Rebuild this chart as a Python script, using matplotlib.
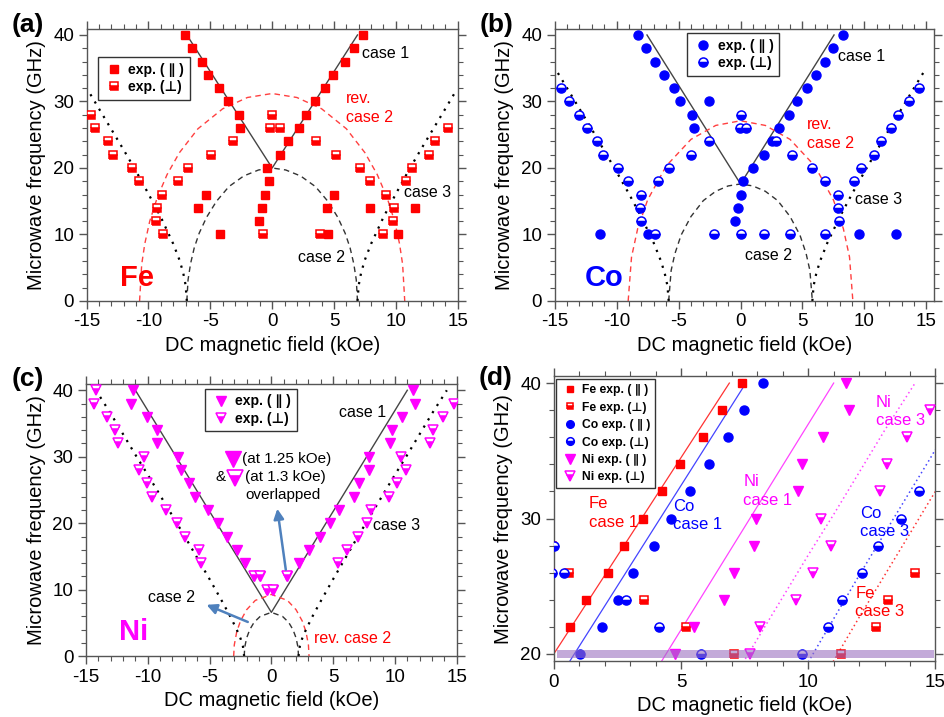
import matplotlib
matplotlib.use('Agg')
import matplotlib.pyplot as plt
from matplotlib.lines import Line2D
from matplotlib.ticker import MultipleLocator

plt.rcParams['font.family'] = ['Liberation Sans', 'DejaVu Sans']
plt.rcParams['axes.unicode_minus'] = False

RED = '#ff0000'
BLUE = '#0000ff'
MAG = '#ff00ff'
ARROW = '#4f81bd'

# ---------------- Fe data (panel a) ----------------
fe_par_x = [-7.08, -6.46, -5.70, -5.17, -4.30, -3.60, -2.69, -2.58, -5.33, -5.97, -4.25,
            -0.43, -0.22, -0.54, -0.86, -1.10, 0.63, 1.25, 2.15, 2.75, 3.50, 4.25, 4.96,
            5.88, 6.62, 7.38, 4.98, 4.44, 4.52, 7.88, 11.57, 10.14]
fe_par_y = [40, 38, 36, 34, 32, 30, 28, 26, 16, 14, 10,
            20, 18, 16, 14, 12, 22, 24, 26, 28, 30, 32, 34,
            36, 38, 40, 16, 14, 10, 14, 14, 10]
fe_perp_x = [-14.64, -14.34, -13.26, -12.83, -11.30, -10.76, -8.88, -9.31, -9.42, -8.85,
             -7.64, -6.78, -4.95, -3.17, -0.05, -0.16, 0.60, -0.75, 3.55, 5.20, 7.07,
             7.88, 9.20, 9.82, 9.74, 8.93, 3.85, 10.79, 11.29, 12.65, 13.15, 14.20]
fe_perp_y = [28, 26, 24, 22, 20, 18, 16, 14, 12, 10,
             18, 20, 22, 24, 28, 26, 26, 10, 24, 22, 20,
             18, 16, 14, 12, 10, 10, 18, 20, 22, 24, 26]

# ---------------- Co data (panel b) ----------------
co_par_x = [-8.27, -7.67, -6.93, -6.17, -5.37, -4.88, -3.88, -3.75, -2.52, -11.31, -7.47,
            0.23, 0.07, -0.20, -0.42, 1.04, 1.90, 2.52, 3.13, 3.94, 4.59, 5.34, 6.09,
            6.85, 7.49, 8.24, 9.56, 12.52]
co_par_y = [40, 38, 36, 34, 32, 30, 28, 26, 30, 10, 10,
            18, 16, 14, 12, 20, 22, 24, 26, 28, 30, 32, 34,
            36, 38, 40, 10, 10]
co_perp_x = [-14.46, -13.82, -13.01, -12.42, -11.56, -11.07, -9.89, -9.08, -8.0, -8.08, -8.0,
             -6.93, -6.66, -5.74, -4.02, -2.57, -2.14, 0.0, -0.05, 0.42, 0.0, 1.90, 4.0,
             2.83, 4.12, 5.80, 6.85, 7.87, 7.87, 7.92, 6.85, 9.16, 9.76, 10.78, 11.31,
             12.12, 12.73, 13.63, 14.37]
co_perp_y = [32, 30, 28, 26, 24, 22, 20, 18, 16, 14, 12,
             10, 18, 20, 22, 24, 10, 28, 26, 26, 10, 10, 10,
             24, 22, 20, 18, 16, 14, 12, 10, 18, 20, 22, 24,
             26, 28, 30, 32]

# ---------------- Ni data (panel c) ----------------
ni_par_x = [-11.17, -11.33, -10.09, -9.28, -9.28, -7.55, -7.34, -6.64, -6.20, -5.13, -4.32,
            -3.56, -2.81, -2.16, -1.40, -0.95, -0.35, 0.10, 1.25, 2.21, 3.02, 3.94, 4.75,
            5.50, 6.69, 7.07, 7.88, 7.93, 9.60, 9.77, 10.57, 11.60, 11.49]
ni_par_y = [40, 38, 36, 34, 32, 30, 28, 26, 24, 22, 20,
            18, 16, 14, 12, 12, 10, 10, 12, 14, 16, 18, 20,
            22, 24, 26, 28, 30, 32, 34, 36, 38, 40]
ni_perp_x = [-14.19, -14.35, -13.27, -12.62, -12.41, -10.30, -10.74, -10.03, -9.66, -8.52,
             -7.61, -6.96, -5.88, -5.66, -1.40, -0.95, -0.35, 0.10, 1.30, 5.40, 6.10, 7.01,
             7.72, 8.09, 9.50, 10.20, 10.90, 10.52, 12.84, 13.11, 13.87, 14.78]
ni_perp_y = [40, 38, 36, 34, 32, 30, 28, 26, 24, 22,
             20, 18, 16, 14, 12, 12, 10, 10, 12, 14, 16, 18,
             20, 22, 24, 26, 28, 30, 32, 34, 36, 38]

# ---------------- model curves ----------------
fe_c1_x = [-6.9, 0, 6.9]
fe_c1_y = [40, 20, 40]
co_c1_x = [-7.55, 0, 7.55]
co_c1_y = [40, 17.6, 40]
ni_c1_x = [-11.0, 0, 11.0]
ni_c1_y = [40, 6.6, 40]

fe_c2_x = [-6.9, -6.8, -6.6, -6.3, -5.9, -5.3, -4.5, -3.5, -2.3, -1.1, 0,
           1.1, 2.3, 3.5, 4.5, 5.3, 5.9, 6.3, 6.6, 6.8, 6.9]
fe_c2_y = [0, 3.2, 5.6, 8.0, 10.2, 12.6, 15.0, 17.2, 18.8, 19.7, 20,
           19.7, 18.8, 17.2, 15.0, 12.6, 10.2, 8.0, 5.6, 3.2, 0]
fe_rc2_x = [-10.72, -10.55, -10.3, -9.9, -9.3, -8.5, -7.5, -6, -4, -2, 0,
            2, 4, 6, 7.5, 8.5, 9.3, 9.9, 10.3, 10.55, 10.72]
fe_rc2_y = [0, 5.5, 8.6, 12.0, 15.5, 19.0, 22.3, 25.9, 28.9, 30.6, 31.2,
            30.6, 28.9, 25.9, 22.3, 19.0, 15.5, 12.0, 8.6, 5.5, 0]
fe_c3_h = [6.9, 7.0, 7.2, 7.5, 8, 9, 10, 11, 12, 13, 14, 14.8, 15]
fe_c3_f = [0, 2.4, 4.3, 6.2, 8.6, 12.6, 16.1, 19.5, 22.7, 25.8, 28.9, 31.4, 32.0]

co_c2_x = [-5.8, -5.6, -5.3, -4.8, -4.0, -3.0, -2.0, -1.0, 0,
           1.0, 2.0, 3.0, 4.0, 4.8, 5.3, 5.6, 5.8]
co_c2_y = [0, 4.6, 7.1, 9.9, 12.7, 15.1, 16.5, 17.3, 17.6,
           17.3, 16.5, 15.1, 12.7, 9.9, 7.1, 4.6, 0]
co_rc2_x = [-9.07, -8.8, -8.3, -7.5, -6, -4, -2, 0, 2, 4, 6, 7.5, 8.3, 8.8, 9.07]
co_rc2_y = [0, 6.6, 10.9, 15.2, 20.3, 24.3, 26.4, 27.1, 26.4, 24.3, 20.3, 15.2, 10.9, 6.6, 0]
co_c3_h = [5.8, 5.9, 6.1, 6.4, 7, 8, 9, 10, 11, 12, 13, 14, 14.75, 15]
co_c3_f = [0, 2.3, 4.0, 5.9, 8.7, 12.6, 16.1, 19.4, 22.6, 25.8, 28.9, 32.0, 34.3, 35.1]

ni_c2_x = [-2.2, -2.15, -2.0, -1.75, -1.4, -0.9, 0, 0.9, 1.4, 1.75, 2.0, 2.15, 2.2]
ni_c2_y = [0, 1.4, 2.75, 4.0, 5.1, 6.0, 6.6, 6.0, 5.1, 4.0, 2.75, 1.4, 0]
ni_rc2_x = [-3.05, -3.0, -2.8, -2.5, -2.0, -1.3, 0, 1.3, 2.0, 2.5, 2.8, 3.0, 3.05]
ni_rc2_y = [0, 1.7, 3.7, 5.3, 7.0, 8.4, 9.3, 8.4, 7.0, 5.3, 3.7, 1.7, 0]
ni_c3_h = [2.2, 2.3, 2.5, 2.8, 3.3, 4, 5, 6, 7, 8, 9, 10, 11, 12, 13, 14.2]
ni_c3_f = [0, 1.5, 2.7, 4.0, 5.9, 8.3, 11.6, 14.8, 18.0, 21.1, 24.2, 27.3, 30.3, 33.4, 36.5, 40.0]

DOT = (0, (1, 2.8))
DASH = (0, (4, 3))


def neg(v):
    return [-a for a in v]


def style(ax, xlim, ylim, xmaj, ymaj, ymin):
    ax.set_xlim(*xlim)
    ax.set_ylim(*ylim)
    ax.xaxis.set_major_locator(MultipleLocator(xmaj))
    ax.xaxis.set_minor_locator(MultipleLocator(1))
    ax.yaxis.set_major_locator(MultipleLocator(ymaj))
    ax.yaxis.set_minor_locator(MultipleLocator(ymin))
    ax.tick_params(which='both', direction='out', top=True, right=True,
                   labeltop=False, labelright=False, color='#555555')
    ax.tick_params(which='major', length=6, width=1, labelsize=13.5, pad=3)
    ax.tick_params(which='minor', length=3.5, width=0.8)
    for s in ax.spines.values():
        s.set_color('#555555')
        s.set_linewidth(1)
    ax.set_xlabel('DC magnetic field (kOe)', fontsize=14.5, labelpad=4)
    ax.set_ylabel('Microwave frequency (GHz)', fontsize=14.5, labelpad=5)


def pts(ax, x, y, marker, color, ms, half=False, z=3):
    if half:
        ax.plot(x, y, linestyle='none', marker=marker, ms=ms, color=color,
                fillstyle='bottom', markerfacecoloralt='white', mec=color, mew=1.1,
                zorder=z, clip_on=True)
    else:
        ax.plot(x, y, linestyle='none', marker=marker, ms=ms, color=color,
                mec=color, zorder=z, clip_on=True)


def handle(marker, color, ms, half=False):
    if half:
        return Line2D([], [], linestyle='none', marker=marker, ms=ms, color=color,
                      fillstyle='bottom', markerfacecoloralt='white', mec=color, mew=1.1)
    return Line2D([], [], linestyle='none', marker=marker, ms=ms, color=color, mec=color)


def small_legend(ax, handles, labels, anchor, fs, spacing=0.25):
    leg = ax.legend(handles, labels, loc='upper left', bbox_to_anchor=anchor,
                    frameon=True, fancybox=False, edgecolor='#333333', framealpha=1,
                    prop={'weight': 'bold', 'size': fs}, handletextpad=0.3,
                    borderpad=0.4, labelspacing=spacing, handlelength=1.5,
                    borderaxespad=0)
    leg.get_frame().set_linewidth(1.0)
    leg.set_zorder(10)
    return leg


def theory(ax, c1x, c1y, c2x, c2y, rc2x, rc2y, c3h, c3f):
    ax.plot(c1x, c1y, color='#444444', lw=1.0, zorder=2)
    ax.plot(c2x, c2y, color='#333333', lw=1.0, linestyle=DASH, zorder=2)
    ax.plot(rc2x, rc2y, color='#ff4040', lw=1.0, linestyle=DASH, zorder=2)
    ax.plot(c3h, c3f, color='black', lw=1.6, linestyle=DOT, zorder=2)
    ax.plot(neg(c3h), c3f, color='black', lw=1.6, linestyle=DOT, zorder=2)


fig = plt.figure(figsize=(9.45, 7.17), dpi=100)
axa = fig.add_axes([0.0917, 0.5802, 0.3926, 0.3790])
axb = fig.add_axes([0.5870, 0.5802, 0.4011, 0.3790])
axc = fig.add_axes([0.0910, 0.0847, 0.3923, 0.3798])
axd = fig.add_axes([0.5860, 0.0777, 0.4039, 0.3975])

# ---------------- (a) Fe ----------------
style(axa, (-15, 15), (0, 40.86), 5, 10, 2)
theory(axa, fe_c1_x, fe_c1_y, fe_c2_x, fe_c2_y, fe_rc2_x, fe_rc2_y, fe_c3_h[:-1], fe_c3_f[:-1])
pts(axa, fe_par_x, fe_par_y, 's', RED, 6)
pts(axa, fe_perp_x, fe_perp_y, 's', RED, 6, half=True)
small_legend(axa, [handle('s', RED, 6), handle('s', RED, 6, True)],
             ['exp. ( \u2225 )', 'exp. (\u22a5)'], (0.03, 0.897), 10)
axa.text(7.3, 37.2, 'case 1', fontsize=11.5, va='center')
axa.text(5.95, 30.5, 'rev.', fontsize=11.5, va='center', color=RED)
axa.text(5.95, 27.6, 'case 2', fontsize=11.5, va='center', color=RED)
axa.text(10.65, 16.3, 'case 3', fontsize=11.5, va='center')
axa.text(2.05, 6.5, 'case 2', fontsize=11.5, va='center')
axa.text(-12.3, 3.4, 'Fe', fontsize=21, fontweight='bold', color=RED, va='center')

# ---------------- (b) Co ----------------
style(axb, (-15, 15.6), (0, 40.86), 5, 10, 2)
theory(axb, co_c1_x, co_c1_y, co_c2_x, co_c2_y, co_rc2_x, co_rc2_y, co_c3_h[:-1], co_c3_f[:-1])
pts(axb, co_par_x, co_par_y, 'o', BLUE, 6.5)
pts(axb, co_perp_x, co_perp_y, 'o', BLUE, 6.5, half=True)
small_legend(axb, [handle('o', BLUE, 6.5), handle('o', BLUE, 6.5, True)],
             ['exp. ( \u2225 )', 'exp. (\u22a5)'], (0.35, 0.985), 10)
axb.text(7.85, 36.7, 'case 1', fontsize=11.5, va='center')
axb.text(5.35, 26.6, 'rev.', fontsize=11.5, va='center', color=RED)
axb.text(5.35, 23.7, 'case 2', fontsize=11.5, va='center', color=RED)
axb.text(9.25, 15.3, 'case 3', fontsize=11.5, va='center')
axb.text(0.35, 6.8, 'case 2', fontsize=11.5, va='center')
axb.text(-12.6, 3.4, 'Co', fontsize=21, fontweight='bold', color=BLUE, va='center')

# ---------------- (c) Ni ----------------
style(axc, (-15, 15), (0, 40.95), 5, 10, 2)
theory(axc, ni_c1_x, ni_c1_y, ni_c2_x, ni_c2_y, ni_rc2_x, ni_rc2_y, ni_c3_h, ni_c3_f)
pts(axc, ni_par_x, ni_par_y, 'v', MAG, 7.5)
pts(axc, ni_perp_x, ni_perp_y, 'v', MAG, 7.5, half=True)
small_legend(axc, [handle('v', MAG, 7.5), handle('v', MAG, 7.5, True)],
             ['exp. ( \u2225 )', 'exp. (\u22a5)'], (0.32, 0.982), 10)
axc.text(5.5, 36.7, 'case 1', fontsize=11.5, va='center')
axc.text(8.25, 19.6, 'case 3', fontsize=11.5, va='center')
axc.text(3.45, 2.65, 'rev. case 2', fontsize=11.5, va='center', color=RED)
axc.text(-9.95, 8.9, 'case 2', fontsize=11.5, va='center')
axc.text(-12.3, 3.6, 'Ni', fontsize=21, fontweight='bold', color=MAG, va='center')
axc.plot([-3.13], [29.7], linestyle='none', marker='v', ms=11, color=MAG, zorder=4)
axc.plot([-2.92], [26.8], linestyle='none', marker='v', ms=11, color=MAG,
         fillstyle='bottom', markerfacecoloralt='white', mec=MAG, mew=1.2, zorder=4)
axc.text(-2.35, 29.7, '(at 1.25 kOe)', fontsize=11, va='center')
axc.text(-4.55, 27.0, '&', fontsize=11, va='center')
axc.text(-2.1, 27.0, '(at 1.3 kOe)', fontsize=11, va='center')
axc.text(-2.1, 24.2, 'overlapped', fontsize=11, va='center')
axc.annotate('', xy=(0.45, 22.6), xytext=(1.2, 12.6),
             arrowprops=dict(arrowstyle='-|>', color=ARROW, lw=1.8, mutation_scale=15))
axc.annotate('', xy=(-5.45, 7.9), xytext=(-1.7, 5.0),
             arrowprops=dict(arrowstyle='-|>', color=ARROW, lw=1.8, mutation_scale=15))

# ---------------- (d) zoom ----------------
style(axd, (0, 15), (19.46, 40.5), 5, 10, 2)
axd.plot(fe_c1_x, fe_c1_y, color='#ff3333', lw=0.9, zorder=2)
axd.plot(co_c1_x, co_c1_y, color='#4444ff', lw=0.9, zorder=2)
axd.plot(ni_c1_x, ni_c1_y, color='#ff44ff', lw=0.9, zorder=2)
axd.plot(fe_c3_h, fe_c3_f, color='#ff3333', lw=1.1, linestyle=(0, (1, 2)), zorder=2)
axd.plot(co_c3_h, co_c3_f, color='#4444ff', lw=1.1, linestyle=(0, (1, 2)), zorder=2)
axd.plot(ni_c3_h, ni_c3_f, color='#ff44ff', lw=1.1, linestyle=(0, (1, 2)), zorder=2)
pts(axd, fe_par_x, fe_par_y, 's', RED, 6)
pts(axd, fe_perp_x, fe_perp_y, 's', RED, 6, half=True)
pts(axd, co_par_x, co_par_y, 'o', BLUE, 6.5)
pts(axd, co_perp_x, co_perp_y, 'o', BLUE, 6.5, half=True)
pts(axd, ni_par_x, ni_par_y, 'v', MAG, 7.5)
pts(axd, ni_perp_x, ni_perp_y, 'v', MAG, 7.5, half=True)
axd.axhspan(19.72, 20.28, xmin=0.008, xmax=0.995, color='#9b72c0', alpha=0.6,
            lw=0, zorder=5)
small_legend(axd,
             [handle('s', RED, 5), handle('s', RED, 5, True),
              handle('o', BLUE, 5.5), handle('o', BLUE, 5.5, True),
              handle('v', MAG, 6.5), handle('v', MAG, 6.5, True)],
             ['Fe exp. ( \u2225 )', 'Fe exp. (\u22a5)', 'Co exp. ( \u2225 )',
              'Co exp. (\u22a5)', 'Ni exp. ( \u2225 )', 'Ni exp. (\u22a5)'],
             (0.005, 0.989), 8.7, spacing=0.45)
axd.text(1.38, 31.1, 'Fe', fontsize=12, color=RED, va='center')
axd.text(1.38, 29.7, 'case 1', fontsize=12, color=RED, va='center')
axd.text(4.7, 30.9, 'Co', fontsize=12, color=BLUE, va='center')
axd.text(4.7, 29.55, 'case 1', fontsize=12, color=BLUE, va='center')
axd.text(7.45, 32.7, 'Ni', fontsize=12, color=MAG, va='center')
axd.text(7.45, 31.3, 'case 1', fontsize=12, color=MAG, va='center')
axd.text(12.65, 38.6, 'Ni', fontsize=12, color=MAG, va='center')
axd.text(12.65, 37.2, 'case 3', fontsize=12, color=MAG, va='center')
axd.text(12.05, 30.4, 'Co', fontsize=12, color=BLUE, va='center')
axd.text(12.05, 29.05, 'case 3', fontsize=12, color=BLUE, va='center')
axd.text(11.85, 24.5, 'Fe', fontsize=12, color=RED, va='center')
axd.text(11.85, 23.15, 'case 3', fontsize=12, color=RED, va='center')

# panel labels
fig.text(12 / 945, 1 - 25 / 717, '(a)', fontsize=19, fontweight='bold', va='center')
fig.text(480 / 945, 1 - 25 / 717, '(b)', fontsize=19, fontweight='bold', va='center')
fig.text(12 / 945, 1 - 379 / 717, '(c)', fontsize=19, fontweight='bold', va='center')
fig.text(479 / 945, 1 - 378 / 717, '(d)', fontsize=19, fontweight='bold', va='center')

fig.savefig('out.png', dpi=100)
